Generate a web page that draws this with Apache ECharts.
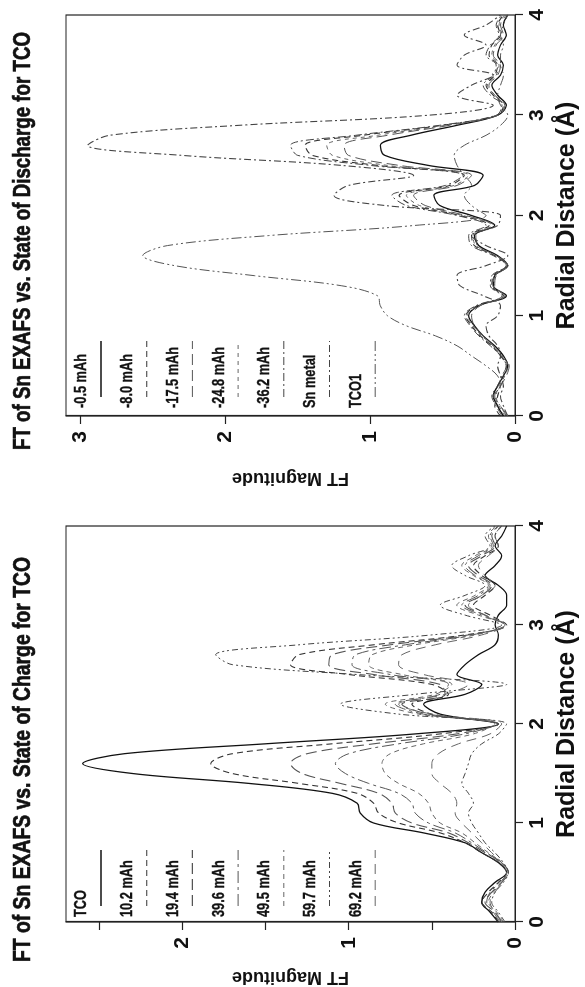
<!DOCTYPE html>
<html><head><meta charset="utf-8">
<script src="https://cdn.jsdelivr.net/npm/echarts@6/dist/echarts.min.js"></script>
<style>
html,body{margin:0;padding:0;background:#fff;overflow:hidden;width:585px;height:987px;}
#wrap{position:absolute;left:0;top:0;width:585px;height:987px;overflow:hidden;background:#fff;}
#chart{position:absolute;left:0;top:0;width:987px;height:585px;transform-origin:0 0;transform:translate(0,987px) rotate(-90deg);}
</style></head><body><div id="wrap"><div id="chart"></div></div>
<script>
// ---------------- data ----------------
const radial = [0,0.1,0.2,0.3,0.4,0.5,0.6,0.7,0.8,0.9,1.0,1.1,1.2,1.3,1.4,1.5,1.6,1.7,1.8,1.9,2.0,2.1,2.2,2.3,2.4,2.5,2.6,2.7,2.8,2.9,3.0,3.1,3.2,3.3,3.4,3.5,3.6,3.7,3.8,3.9,4.0];

const chargeTitle = 'FT of Sn EXAFS vs. State of Charge for TCO';
const dischargeTitle = 'FT of Sn EXAFS vs. State of Discharge for TCO';
const radialTicks = [0,1,2,3,4];
const chargeMagTicks = [0,0.5,1,1.5,2,2.5];
const chargeMagLabels = [0,1,2];
const dischargeMagTicks = [0,1,2,3];

const chargeNames = ['TCO','10.2 mAh','19.4 mAh','39.6 mAh','49.5 mAh','59.7 mAh','69.2 mAh'];
const chTCO  = [0.10,0.15,0.20,0.18,0.12,0.05,0.10,0.20,0.30,0.55,0.85,0.93,0.95,1.10,1.60,2.30,2.60,2.35,1.50,0.60,0.10,0.45,0.55,0.30,0.20,0.35,0.30,0.22,0.12,0.10,0.12,0.10,0.05,0.05,0.10,0.18,0.12,0.08,0.12,0.08,0.05];
const ch10_2 = [0.10,0.14,0.20,0.16,0.10,0.05,0.10,0.20,0.30,0.45,0.70,0.82,0.85,0.95,1.30,1.70,1.83,1.70,1.10,0.45,0.10,0.50,0.62,0.40,0.50,1.00,1.35,1.30,0.85,0.30,0.05,0.15,0.25,0.18,0.12,0.20,0.25,0.18,0.10,0.12,0.08];
const ch19_4 = [0.08,0.12,0.18,0.14,0.08,0.04,0.08,0.18,0.28,0.40,0.62,0.72,0.74,0.82,1.05,1.28,1.35,1.25,0.85,0.35,0.10,0.52,0.68,0.42,0.45,0.85,1.12,1.10,0.75,0.28,0.06,0.18,0.30,0.20,0.14,0.22,0.28,0.20,0.12,0.14,0.10];
const ch39_6 = [0.09,0.13,0.17,0.15,0.09,0.05,0.09,0.17,0.26,0.36,0.52,0.60,0.62,0.70,0.88,1.02,1.08,1.00,0.70,0.30,0.12,0.55,0.72,0.45,0.40,0.75,0.98,0.96,0.66,0.26,0.06,0.20,0.32,0.22,0.15,0.24,0.30,0.22,0.13,0.15,0.10];
const ch49_5 = [0.07,0.11,0.16,0.13,0.08,0.04,0.08,0.16,0.24,0.32,0.45,0.50,0.52,0.58,0.70,0.78,0.80,0.75,0.55,0.25,0.12,0.58,0.78,0.48,0.38,0.68,0.88,0.86,0.60,0.24,0.06,0.22,0.35,0.24,0.16,0.25,0.32,0.24,0.14,0.16,0.11];
const ch59_7 = [0.06,0.10,0.14,0.12,0.07,0.04,0.07,0.12,0.18,0.22,0.26,0.28,0.25,0.28,0.32,0.30,0.28,0.26,0.20,0.10,0.05,0.70,1.05,0.60,0.05,0.95,1.70,1.80,1.30,0.50,0.08,0.30,0.45,0.30,0.18,0.30,0.38,0.28,0.15,0.18,0.12];
const ch69_2 = [0.08,0.12,0.15,0.12,0.08,0.05,0.08,0.14,0.20,0.26,0.32,0.36,0.35,0.38,0.45,0.50,0.50,0.46,0.34,0.15,0.08,0.50,0.70,0.42,0.28,0.55,0.70,0.68,0.48,0.20,0.06,0.18,0.28,0.20,0.12,0.18,0.22,0.16,0.10,0.12,0.08];

const dischargeNames = ['-0.5 mAh','-8.0 mAh','-17.5 mAh','-24.8 mAh','-36.2 mAh','Sn metal','TCO1'];
const dc0_5  = [0.08,0.12,0.15,0.12,0.08,0.05,0.08,0.14,0.22,0.28,0.32,0.25,0.06,0.15,0.14,0.05,0.12,0.25,0.28,0.14,0.30,0.52,0.56,0.28,0.22,0.60,0.90,0.93,0.72,0.40,0.12,0.06,0.12,0.16,0.10,0.08,0.12,0.10,0.06,0.08,0.05];
const dc8_0  = [0.10,0.14,0.12,0.10,0.08,0.06,0.10,0.16,0.24,0.30,0.34,0.26,0.08,0.16,0.15,0.06,0.14,0.28,0.30,0.18,0.38,0.70,0.80,0.45,0.35,0.95,1.40,1.45,1.05,0.50,0.12,0.08,0.15,0.20,0.14,0.12,0.18,0.16,0.10,0.12,0.08];
const dc17_5 = [0.06,0.10,0.14,0.10,0.06,0.04,0.10,0.15,0.22,0.28,0.30,0.24,0.07,0.14,0.13,0.05,0.13,0.26,0.27,0.15,0.34,0.62,0.70,0.40,0.30,0.80,1.15,1.18,0.88,0.45,0.12,0.07,0.14,0.18,0.12,0.10,0.15,0.13,0.08,0.10,0.06];
const dc24_8 = [0.07,0.11,0.13,0.11,0.07,0.05,0.09,0.15,0.23,0.29,0.33,0.25,0.07,0.15,0.14,0.05,0.13,0.27,0.29,0.16,0.36,0.66,0.75,0.42,0.32,0.88,1.26,1.30,0.95,0.48,0.12,0.07,0.14,0.19,0.13,0.11,0.16,0.14,0.09,0.11,0.07];
const dc36_2 = [0.09,0.13,0.16,0.12,0.09,0.06,0.10,0.17,0.25,0.31,0.35,0.27,0.09,0.17,0.16,0.06,0.15,0.30,0.32,0.20,0.40,0.75,0.85,0.48,0.36,1.00,1.50,1.55,1.10,0.52,0.13,0.09,0.17,0.22,0.15,0.13,0.20,0.17,0.11,0.13,0.09];
const dcSn   = [0.05,0.08,0.10,0.08,0.10,0.12,0.10,0.12,0.18,0.20,0.12,0.10,0.22,0.38,0.40,0.20,0.05,0.20,0.30,0.12,0.10,0.90,1.25,1.15,0.70,1.20,2.30,2.95,2.80,1.90,0.60,0.15,0.40,0.30,0.15,0.40,0.35,0.20,0.35,0.20,0.10];
const dcTCO1 = [0.05,0.10,0.15,0.10,0.12,0.20,0.30,0.40,0.55,0.75,0.88,0.93,0.95,1.20,1.80,2.35,2.57,2.40,1.70,0.70,0.20,0.30,0.35,0.30,0.35,0.40,0.42,0.35,0.20,0.10,0.05,0.10,0.12,0.10,0.08,0.10,0.10,0.08,0.10,0.08,0.05];

const chargeValues = [chTCO, ch10_2, ch19_4, ch39_6, ch49_5, ch59_7, ch69_2];
const dischargeValues = [dc0_5, dc8_0, dc17_5, dc24_8, dc36_2, dcSn, dcTCO1];

// ---------------- styles ----------------
const FONT = "'Liberation Sans',Arial,Helvetica,sans-serif";
const chargeStyles = [
  {c:'#111', w:1.3, d:'solid'},
  {c:'#333', w:1.1, d:[6,4]},
  {c:'#555', w:1.1, d:[11,5]},
  {c:'#555', w:1.0, d:[12,4,3,4]},
  {c:'#666', w:1.0, d:[5,4]},
  {c:'#444', w:1.0, d:[6,3,2,3,2,3]},
  {c:'#666', w:1.0, d:[10,6]}
];
const dischargeStyles = [
  {c:'#111', w:1.3, d:'solid'},
  {c:'#333', w:1.1, d:[6,4]},
  {c:'#555', w:1.0, d:[11,5]},
  {c:'#666', w:1.0, d:[4,4]},
  {c:'#444', w:1.0, d:[8,3,2,3]},
  {c:'#444', w:1.1, d:[7,3,2,3]},
  {c:'#555', w:1.0, d:[10,3,2,3,2,3]}
];

const grids = [
  {left:62, top:66, width:399, height:456},
  {left:571, top:66, width:401, height:456}
];
const titleLayout = [ {start:25, len:405}, {start:537, len:418} ];

const measureCtx = document.createElement('canvas').getContext('2d');
function textWidth(txt, font){ measureCtx.font = font; return measureCtx.measureText(txt).width; }

function xAxisFor(i){
  return {
    gridIndex:i, type:'value', min:0, max:4, interval:1,
    axisLine:{show:true, lineStyle:{color:'#222', width:1.2}},
    axisTick:{show:true, inside:false, length:8, customValues:radialTicks, lineStyle:{color:'#222', width:1.2}},
    axisLabel:{fontFamily:FONT, fontWeight:'bold', fontSize:21, color:'#111', margin:12, customValues:radialTicks},
    splitLine:{show:false},
    name:'Radial Distance (Å)', nameLocation:'middle', nameGap:40,
    nameTextStyle:{fontFamily:FONT, fontWeight:'bold', fontSize:25, color:'#111'}
  };
}
function yAxisFor(i, max, ticks, labels, gap){
  return {
    gridIndex:i, type:'value', min:0, max:max,
    axisLine:{show:true, lineStyle:{color:'#222', width:1.2}},
    axisTick:{show:true, inside:false, length:8, customValues:ticks, lineStyle:{color:'#222', width:1.2}},
    axisLabel:{fontFamily:FONT, fontWeight:'bold', fontSize:21, color:'#111', margin:15, customValues:labels},
    splitLine:{show:false},
    name:'FT Magnitude', nameLocation:'middle', nameGap:gap,
    nameTextStyle:{fontFamily:FONT, fontWeight:'bold', fontSize:18, color:'#111'}
  };
}

const series = [];
const graphics = [];
const LEG_FONT = "bold 16px " + FONT;
function addPanel(gi, names, values, styles, title){
  const g = grids[gi];
  const tl = titleLayout[gi];
  const tFont = "bold 23px " + FONT;
  const sx = tl.len / textWidth(title, tFont);
  graphics.push({type:'text', x:tl.start, y:12, scaleX:sx, originX:0,
    style:{text:title, font:tFont, fill:'#111', stroke:'#111', lineWidth:0.7}});
  names.forEach((nm, k) => {
    const st = styles[k];
    series.push({
      type:'line', name:nm, xAxisIndex:gi, yAxisIndex:gi,
      data: radial.map((r, j) => [r, values[k][j]]),
      showSymbol:false, smooth:0.35, clip:true,
      lineStyle:{color:st.c, width:st.w, type:st.d}
    });
    const rowY = g.top + 16 + k*45.7;
    graphics.push({type:'text', x:g.left+8, y:rowY-8, scaleX:0.8, originX:0,
      style:{text:nm, font:LEG_FONT, fill:'#111', stroke:'#111', lineWidth:0.3}});
    graphics.push({type:'line', shape:{x1:g.left+19, y1:rowY+19, x2:g.left+75, y2:rowY+19},
      style:{stroke:st.c, lineWidth:st.w, lineDash: st.d === 'solid' ? null : st.d}});
  });
}
addPanel(0, chargeNames, chargeValues, chargeStyles, chargeTitle);
addPanel(1, dischargeNames, dischargeValues, dischargeStyles, dischargeTitle);

const chart = echarts.init(document.getElementById('chart'), null, {renderer:'canvas'});
chart.setOption({
  animation:false,
  backgroundColor:'#fff',
  grid: grids.map(g => Object.assign({show:true, borderColor:'#222', borderWidth:1.2, backgroundColor:'transparent'}, g)),
  xAxis:[xAxisFor(0), xAxisFor(1)],
  yAxis:[yAxisFor(0, 2.7, chargeMagTicks, chargeMagLabels, 46), yAxisFor(1, 3.1, dischargeMagTicks, dischargeMagTicks, 53)],
  graphic: graphics,
  series: series
});
</script></body></html>
